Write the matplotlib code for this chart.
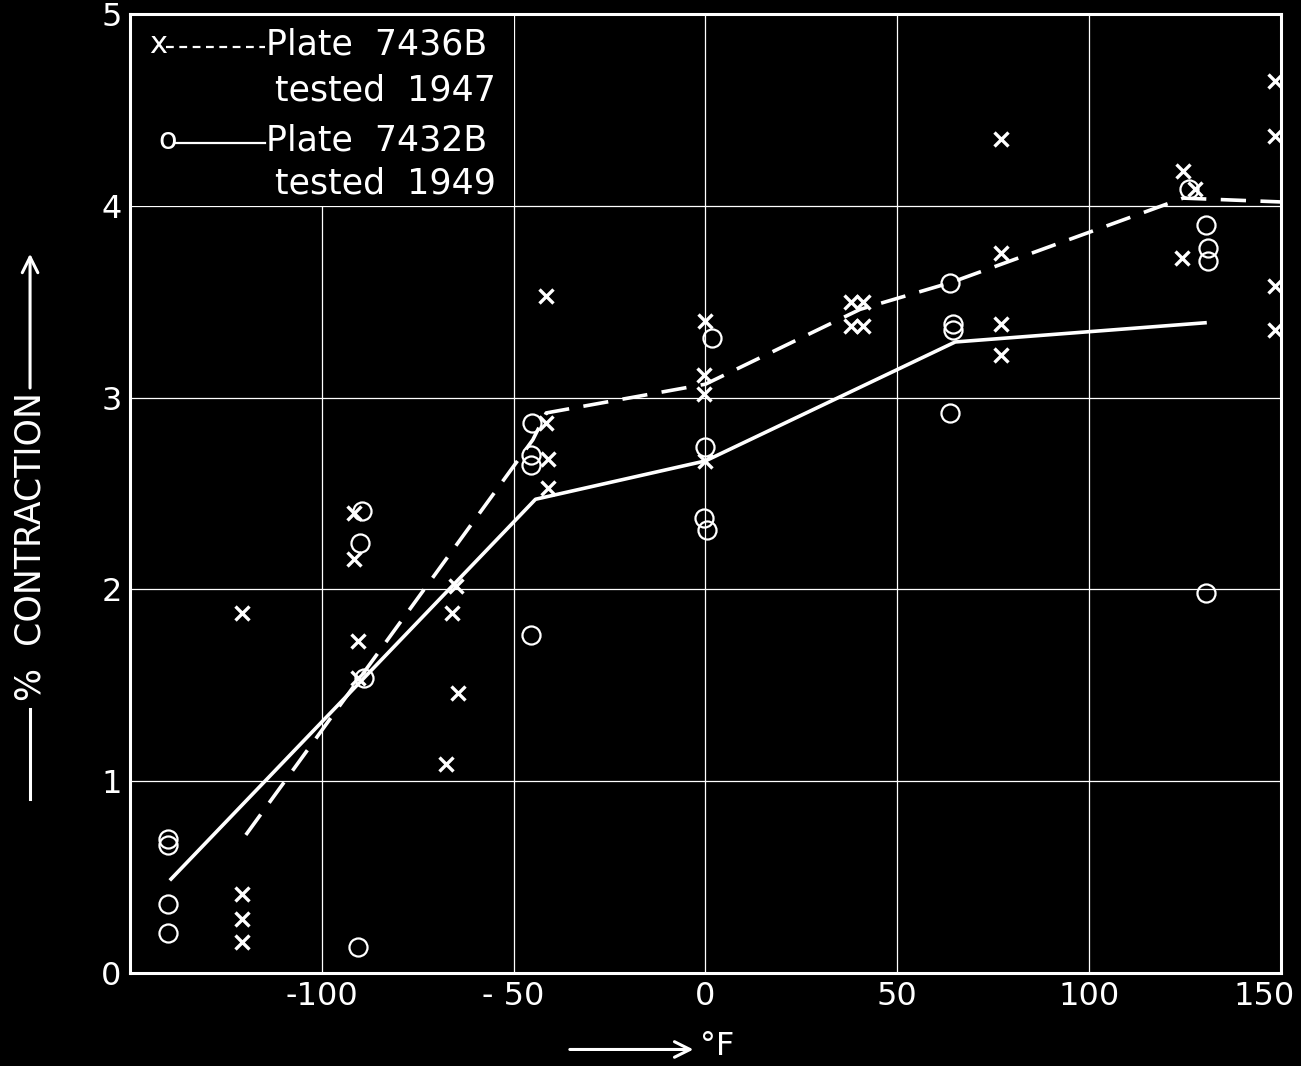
import matplotlib
matplotlib.use("Agg")
import matplotlib.pyplot as plt
import matplotlib.transforms as mtransforms
from matplotlib.patches import Rectangle

# Plate 7436 B, tested 1947 (x marks, dashed curve)
x_pts_temp = [-120.8, -120.8, -120.8, -120.8,
              -91.5, -91.5, -90.5, -90.5,
              -65, -66, -64.5, -67.5,
              -41.5, -41.5, -41, -41,
              0, -0.5, -0.5, 0,
              38, 41, 38, 41,
              77, 77, 77, 77,
              124.5, 127.5, 124.2,
              148.5, 148.5, 148.5, 148.5]
x_pts_val = [1.875, 0.41, 0.28, 0.16,
             2.40, 2.16, 1.73, 1.54,
             2.02, 1.875, 1.46, 1.09,
             3.53, 2.87, 2.68, 2.53,
             3.40, 3.12, 3.02, 2.67,
             3.50, 3.50, 3.375, 3.375,
             4.35, 3.755, 3.385, 3.22,
             4.18, 4.09, 3.73,
             4.65, 4.365, 3.58, 3.35]
dash_temp = [-119.8, -45, -41.5, 0, 40.3, 64, 124.5, 150]
dash_val = [0.72, 2.78, 2.92, 3.07, 3.46, 3.60, 4.04, 4.02]

# Plate 7432 B, tested 1949 (o marks, solid curve)
o_pts_temp = [-140, -140, -140, -140,
              -89.5, -90, -89, -90.5,
              -45.3, -45.6, -45.6, -45.6,
              1.8, 0, -0.5, 0.5,
              63.8, 64.5, 64.5, 63.8,
              130.5, 131, 131, 130.5,
              126]
o_pts_val = [0.70, 0.665, 0.36, 0.21,
             2.41, 2.24, 1.54, 0.135,
             2.87, 2.70, 2.65, 1.76,
             3.31, 2.74, 2.37, 2.31,
             3.60, 3.385, 3.35, 2.92,
             3.90, 3.78, 3.71, 1.98,
             4.09]
solid_temp = [-139.3, -44.3, 0, 65.1, 130.2]
solid_val = [0.49, 2.47, 2.67, 3.29, 3.39]

x_ticks = [-100, -50, 0, 50, 100, 150]
x_tick_labels = ['-100', '- 50', '0', '50', '100', '150']
y_ticks = [0, 1, 2, 3, 4, 5]

plt.rcParams['font.family'] = ['DejaVu Sans']
fig = plt.figure(figsize=(13.01, 10.66), dpi=100, facecolor='black')
ax = fig.add_axes([0.0999, 0.0872, 0.8847, 0.8997], facecolor='black')

ax.set_xlim(-150, 150)
ax.set_ylim(0, 5)

# grid
for gx in [-100, -50, 0, 50, 100]:
    ax.axvline(gx, color='white', lw=0.9, zorder=1)
for gy in [1, 2, 3, 4]:
    ax.axhline(gy, color='white', lw=0.9, zorder=1)

# legend area blanks the grid in the upper left cell
ax.add_patch(Rectangle((-150, 4), 100, 1, facecolor='black', edgecolor='none', zorder=1.5))

ax.plot(dash_temp, dash_val, color='white', lw=2.6, ls=(0, (7, 4)), zorder=3)
ax.plot(solid_temp, solid_val, color='white', lw=2.6, zorder=3)
ax.plot(x_pts_temp, x_pts_val, ls='none', marker='x', ms=10, mew=2.4, color='white', zorder=4)
ax.plot(o_pts_temp, o_pts_val, ls='none', marker='o', ms=13, mew=1.6,
        mfc='none', mec='white', zorder=4)

for sp in ax.spines.values():
    sp.set_color('white')
    sp.set_linewidth(2.2)

ax.set_xticks(x_ticks)
ax.set_xticklabels(x_tick_labels)
ax.set_yticks(y_ticks)
ax.tick_params(length=0, colors='white', labelsize=23)
ax.tick_params(axis='x', pad=6)
ax.tick_params(axis='y', pad=6)

# pull the last x label inside the figure
last = ax.get_xticklabels()[-1]
last.set_transform(last.get_transform() +
                   mtransforms.ScaledTranslation(-12 / 72, 0, fig.dpi_scale_trans))

# legend
tr = ax.transAxes
ax.text(0.017, 0.968, 'x', color='white', fontsize=22, transform=tr, va='center', zorder=5)
ax.plot([0.031, 0.117], [0.966, 0.966], color='white', lw=1.6, ls=(0, (3.5, 2.5)),
        transform=tr, zorder=5)
ax.text(0.118, 0.968, 'Plate  7436B', color='white', fontsize=25, transform=tr, va='center', zorder=5)
ax.text(0.318, 0.920, 'tested  1947', color='white', fontsize=25, transform=tr, va='center',
        ha='right', zorder=5)
ax.text(0.025, 0.868, 'o', color='white', fontsize=22, transform=tr, va='center', zorder=5)
ax.plot([0.040, 0.117], [0.865, 0.865], color='white', lw=1.6, transform=tr, zorder=5)
ax.text(0.118, 0.868, 'Plate  7432B', color='white', fontsize=25, transform=tr, va='center', zorder=5)
ax.text(0.318, 0.823, 'tested  1949', color='white', fontsize=25, transform=tr, va='center',
        ha='right', zorder=5)

# y axis label with its lines and arrow
fig.text(0.0235, 0.487, '%  CONTRACTION', color='white', fontsize=25,
         rotation=90, ha='center', va='center')
fig.add_artist(plt.Line2D([0.0231, 0.0231], [0.2505, 0.335], color='white', lw=2.2,
                          transform=fig.transFigure))
ax.annotate('', xy=(0.0231, 0.762), xytext=(0.0231, 0.636),
            xycoords='figure fraction', textcoords='figure fraction',
            arrowprops=dict(arrowstyle='->', color='white', lw=2.2,
                            mutation_scale=28, shrinkA=0, shrinkB=0))

# x axis label with arrow
ax.annotate('', xy=(0.533, 0.0155), xytext=(0.438, 0.0155),
            xycoords='figure fraction', textcoords='figure fraction',
            arrowprops=dict(arrowstyle='->', color='white', lw=2.2,
                            mutation_scale=28, shrinkA=0, shrinkB=0))
fig.text(0.538, 0.018, '°F', color='white', fontsize=23, ha='left', va='center')

fig.savefig('out.png', dpi=100, facecolor='black')
